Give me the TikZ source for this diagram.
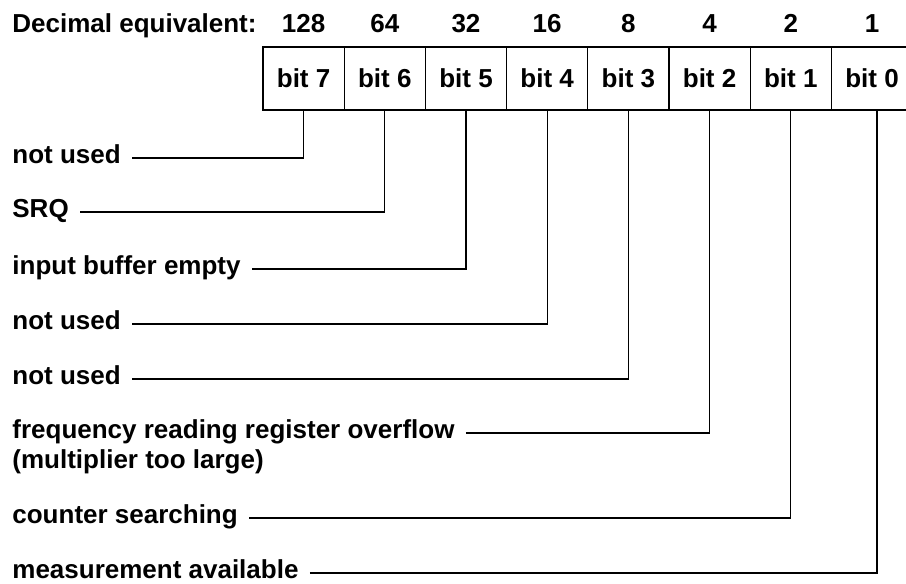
\documentclass[tikz,border=0pt]{standalone}
\usepackage{fontspec}
\setmainfont{Liberation Sans}
\usetikzlibrary{positioning}
\begin{document}
\begin{tikzpicture}[x=0.5pt, y=-0.5pt,
    bitcell/.style={draw, line width=0.6pt, minimum width=40.6pt, minimum height=31.5pt,
        inner sep=0pt, outer sep=0pt, font=\fontsize{13}{15}\selectfont\bfseries},
    txt/.style={inner sep=0pt, font=\fontsize{13}{15}\selectfont\bfseries},
    lab/.style={txt, anchor=mid west},
    wire/.style={line width=0.6pt}]
    \path[use as bounding box, clip] (0,0) rectangle (906,584);

    % Register row, bit 7 on the left
    \node[bitcell] (b7) at (303.6,78.5) {bit 7};
    \node[bitcell, right=0pt of b7] (b6) {bit 6};
    \node[bitcell, right=0pt of b6] (b5) {bit 5};
    \node[bitcell, right=0pt of b5] (b4) {bit 4};
    \node[bitcell, right=0pt of b4] (b3) {bit 3};
    \node[bitcell, right=0pt of b3] (b2) {bit 2};
    \node[bitcell, right=0pt of b2] (b1) {bit 1};
    \node[bitcell, right=0pt of b1] (b0) {bit 0};

    % Decimal weights above the cells
    \node[txt, anchor=base west] (dec) at (12,32) {Decimal equivalent:};
    \node[txt, anchor=base] (d7) at (b7.north |- dec.base) {128};
    \node[txt, anchor=base] (d6) at (b6.north |- dec.base) {64};
    \node[txt, anchor=base] (d5) at (b5.north |- dec.base) {32};
    \node[txt, anchor=base] (d4) at (b4.north |- dec.base) {16};
    \node[txt, anchor=base] (d3) at (b3.north |- dec.base) {8};
    \node[txt, anchor=base] (d2) at (b2.north |- dec.base) {4};
    \node[txt, anchor=base] (d1) at (b1.north |- dec.base) {2};
    \node[txt, anchor=base] (d0) at (b0.north |- dec.base) {1};

    % Bit meanings
    \node[lab] (lab7) at (12,158) {not used};
    \node[lab] (lab6) at (12,212) {SRQ};
    \node[lab] (lab5) at (12,269) {input buffer empty};
    \node[lab] (lab4) at (12,324) {not used};
    \node[lab] (lab3) at (12,379) {not used};
    \node[lab] (lab2) at (12,433) {frequency reading register overflow};
    \node[txt, anchor=base west] (lab2x) at ([yshift=-15pt]lab2.base west) {(multiplier too large)};
    \node[lab] (lab1) at (12,518) {counter searching};
    \node[lab] (lab0) at (12,573) {measurement available};

    % Leader lines up to the cells
    \draw[wire] ([xshift=5.5pt]lab7.mid east) -| (b7.south);
    \draw[wire] ([xshift=5.5pt]lab6.mid east) -| (b6.south);
    \draw[wire] ([xshift=5.5pt]lab5.mid east) -| (b5.south);
    \draw[wire] ([xshift=5.5pt]lab4.mid east) -| (b4.south);
    \draw[wire] ([xshift=5.5pt]lab3.mid east) -| (b3.south);
    \draw[wire] ([xshift=5.5pt]lab2.mid east) -| (b2.south);
    \draw[wire] ([xshift=5.5pt]lab1.mid east) -| (b1.south);
    \draw[wire] ([xshift=5.5pt]lab0.mid east) -| ([xshift=2.5pt]b0.south);

\end{tikzpicture}
\end{document}
